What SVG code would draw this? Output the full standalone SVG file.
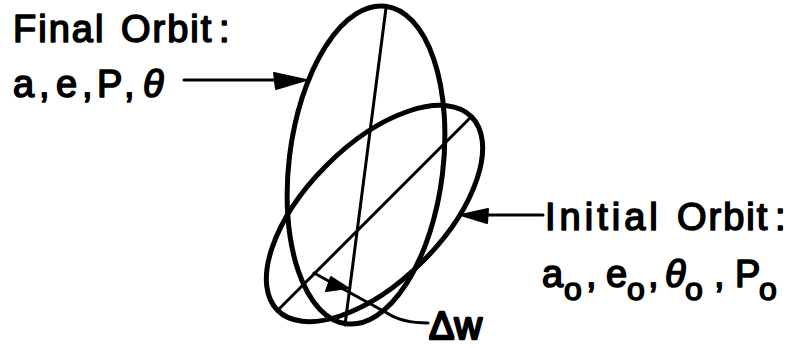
<svg xmlns="http://www.w3.org/2000/svg" width="799" height="348" viewBox="0 0 799 348">
<style>
.o{fill:none;stroke:#000;stroke-width:5}
.l{fill:none;stroke:#000;stroke-width:3;stroke-linecap:round}
.h{fill:#000;stroke:#000;stroke-width:2;stroke-linejoin:round}
text{font-family:"Liberation Sans",Arial,sans-serif;font-size:38px;fill:#000;stroke:#000;stroke-width:1.6px;stroke-linejoin:round}
.s{font-size:32px}
.t{font-style:italic}
.w{letter-spacing:2px}
.i{letter-spacing:4px}
.d{stroke-width:2.4px}
</style>
<rect width="799" height="348" fill="#fff"/>
<g id="final-orbit-node"><ellipse class="o" cx="366" cy="165" rx="77" ry="160" transform="rotate(7 366 165)"/><line class="l" x1="386" y1="8" x2="345" y2="325"/></g>
<g id="initial-orbit-node"><ellipse class="o" cx="374.500" cy="213.500" rx="68" ry="137" transform="rotate(45 374.500 213.500)"/><line class="l" x1="278" y1="310" x2="471" y2="117"/></g>
<g id="connectors">
<line class="l" x1="184" y1="80" x2="280" y2="80"/><path class="h" d="M306 80L274 73L276 89Z"/>
<line class="l" x1="485" y1="215" x2="543" y2="215"/><path class="h" d="M461 215L488 209L487 223Z"/>
<path class="l" d="M314 273L387 313Q402 323 428 323"/><path class="h" d="M348 288L331 277L326 291Z"/>
</g>
<g id="label-final"><text class="w" y="42"><tspan x="13">Final</tspan><tspan x="118"> </tspan><tspan x="121">Orbit</tspan><tspan x="219">:</tspan></text><text y="97"><tspan x="13">a</tspan><tspan x="39">,</tspan><tspan x="56">e</tspan><tspan x="82">,</tspan><tspan x="97">P</tspan><tspan x="124">,</tspan><tspan class="t" x="143">θ</tspan></text></g>
<g id="label-initial"><text class="w" y="230"><tspan class="i" x="545">Initial</tspan><tspan x="670"> </tspan><tspan x="677">Orbit</tspan><tspan x="775">:</tspan></text><text y="287"><tspan x="542">a</tspan><tspan class="s" x="564" dy="13">o</tspan><tspan x="586" dy="-13">,</tspan><tspan x="606">e</tspan><tspan class="s" x="627" dy="13">o</tspan><tspan x="648" dy="-13">,</tspan><tspan class="t" x="665">θ</tspan><tspan class="s" x="685" dy="13">o</tspan><tspan x="714" dy="-13">,</tspan><tspan x="735">P</tspan><tspan class="s" x="759" dy="13">o</tspan></text></g>
<g id="label-delta"><text class="d" x="429" y="339" font-size="40">Δw</text></g>
</svg>
